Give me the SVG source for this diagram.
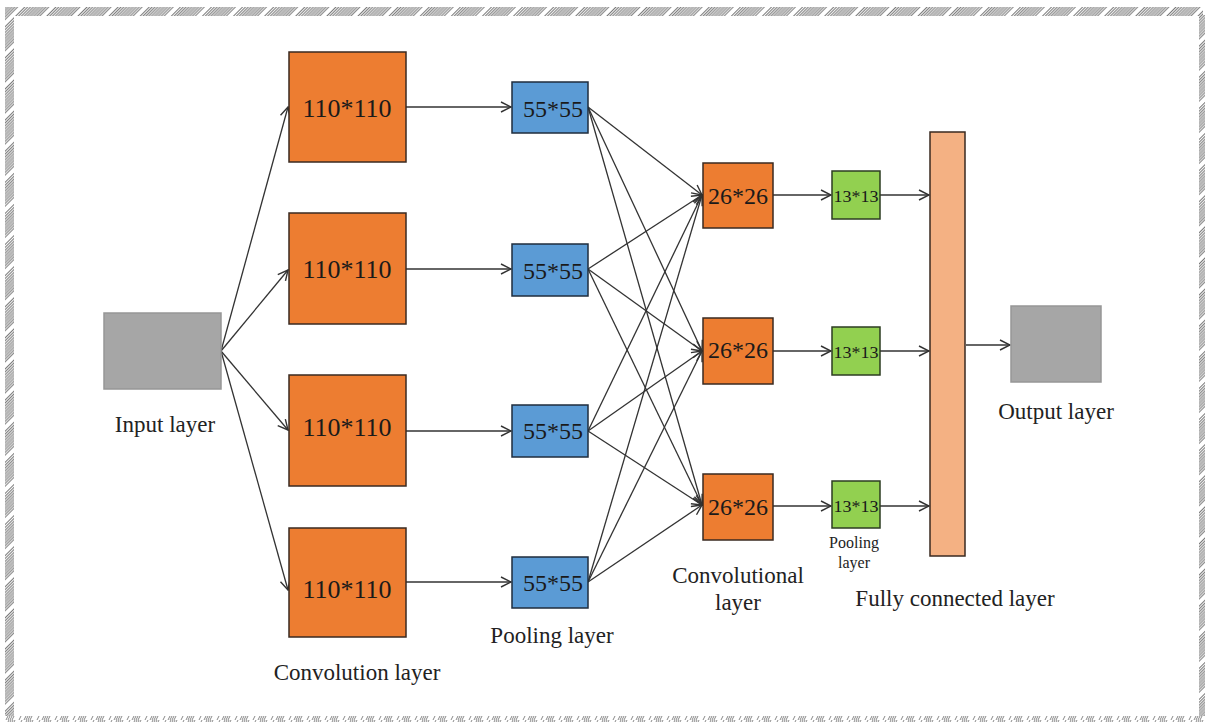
<svg xmlns="http://www.w3.org/2000/svg" width="1205" height="722" viewBox="0 0 1205 722">
  <defs>
    <pattern id="hatch" width="22" height="22" patternUnits="userSpaceOnUse" patternTransform="rotate(-45)">
      <rect width="22" height="22" fill="#ffffff"/>
      <g stroke="#7a7a7a" stroke-width="1.1">
        <line x1="0" y1="0.5" x2="22" y2="0.5"/>
        <line x1="0" y1="2.6" x2="22" y2="2.6"/>
        <line x1="0" y1="4.7" x2="22" y2="4.7"/>
        <line x1="0" y1="6.8" x2="22" y2="6.8"/>
        <line x1="0" y1="8.9" x2="22" y2="8.9"/>
        <line x1="0" y1="11" x2="22" y2="11"/>
        <line x1="0" y1="13.1" x2="22" y2="13.1"/>
        <line x1="0" y1="15.2" x2="22" y2="15.2"/>
        <line x1="0" y1="17.3" x2="22" y2="17.3"/>
      </g>
    </pattern>
    <pattern id="dash" width="18" height="6" patternUnits="userSpaceOnUse">
      <rect width="18" height="6" fill="#ffffff"/>
      <g stroke="#8a8a8a" stroke-width="1">
        <line x1="1" y1="6" x2="4" y2="0"/>
        <line x1="6" y1="6" x2="9" y2="0"/>
        <line x1="8" y1="6" x2="11" y2="0"/>
        <line x1="10" y1="6" x2="13" y2="0"/>
        <line x1="12" y1="6" x2="15" y2="0"/>
      </g>
    </pattern>
    <marker id="arr" viewBox="0 0 12 12" refX="11" refY="6" markerWidth="12" markerHeight="12" markerUnits="userSpaceOnUse" orient="auto">
      <path d="M1,1 L11,6 L1,11" fill="none" stroke="#333" stroke-width="1.4"/>
    </marker>
    <style>
      .lbl { font-family: "Liberation Serif", "Times New Roman", serif; fill: #222; text-anchor: middle; }
      .big { font-size: 23px; }
      .small { font-size: 16px; }
      .inbox { font-family: "Liberation Serif", "Times New Roman", serif; text-anchor: middle; dominant-baseline: central; fill: #1a1a1a; }
      .gray { fill: #a6a6a6; stroke: #969696; stroke-width: 1.5; }
      .conv { fill: #ed7d31; stroke: #3a2a20; stroke-width: 1.5; }
      .pool { fill: #5b9bd5; stroke: #1f2d3d; stroke-width: 1.5; }
      .pool2 { fill: #92d050; stroke: #2d3d22; stroke-width: 1.5; }
      .fc { fill: #f4b183; stroke: #3a2a20; stroke-width: 1.5; }
      .edge { fill: none; stroke: #333; stroke-width: 1.3; marker-end: url(#arr); }
    </style>
  </defs>

  <rect width="1205" height="722" fill="#ffffff"/>

  <!-- frame -->
  <rect x="5" y="7" width="1198" height="9" fill="url(#hatch)"/>
  <rect x="5" y="7" width="9" height="715" fill="url(#hatch)"/>
  <rect x="1199" y="15" width="6" height="703" fill="url(#hatch)"/>
  <rect x="5" y="716" width="1200" height="6" fill="url(#dash)"/>

  <!-- connectors -->
  <g id="connectors">
    <!-- input to convolution -->
    <path class="edge" d="M221,351 L288,107"/>
    <path class="edge" d="M221,351 L288,270"/>
    <path class="edge" d="M221,351 L288,430"/>
    <path class="edge" d="M221,351 L288,590"/>
    <!-- convolution to pooling -->
    <path class="edge" d="M406,107 L511,107"/>
    <path class="edge" d="M406,269 L511,269"/>
    <path class="edge" d="M406,431 L511,431"/>
    <path class="edge" d="M406,582 L511,582"/>
    <!-- pooling to convolutional (full) -->
    <path class="edge" d="M588,107 L702,195"/>
    <path class="edge" d="M588,107 L702,351"/>
    <path class="edge" d="M588,107 L702,505"/>
    <path class="edge" d="M588,269 L702,195"/>
    <path class="edge" d="M588,269 L702,351"/>
    <path class="edge" d="M588,269 L702,505"/>
    <path class="edge" d="M588,431 L702,195"/>
    <path class="edge" d="M588,431 L702,351"/>
    <path class="edge" d="M588,431 L702,505"/>
    <path class="edge" d="M588,582 L702,195"/>
    <path class="edge" d="M588,582 L702,351"/>
    <path class="edge" d="M588,582 L702,505"/>
    <!-- convolutional to pooling -->
    <path class="edge" d="M773,195 L831,195"/>
    <path class="edge" d="M773,351 L831,351"/>
    <path class="edge" d="M773,506 L831,506"/>
    <!-- pooling to fully connected -->
    <path class="edge" d="M880,195 L929,195"/>
    <path class="edge" d="M880,351 L929,351"/>
    <path class="edge" d="M880,506 L929,506"/>
    <!-- fully connected to output -->
    <path class="edge" d="M966,345 L1010,345"/>
  </g>

  <g id="input">
    <rect class="gray" x="104" y="313" width="117" height="76"/>
    <text class="lbl big" x="165" y="432">Input layer</text>
  </g>

  <g id="conv1"><rect class="conv" x="289" y="52" width="117" height="110"/><text class="inbox" x="347" y="108" font-size="26">110*110</text></g>
  <g id="conv2"><rect class="conv" x="289" y="213" width="117" height="111"/><text class="inbox" x="347" y="269" font-size="26">110*110</text></g>
  <g id="conv3"><rect class="conv" x="289" y="375" width="117" height="111"/><text class="inbox" x="347" y="427" font-size="26">110*110</text></g>
  <g id="conv4"><rect class="conv" x="289" y="528" width="117" height="109"/><text class="inbox" x="347" y="589" font-size="26">110*110</text></g>
  <g id="conv-label"><text class="lbl big" x="357" y="680">Convolution layer</text></g>

  <g id="pool1"><rect class="pool" x="512" y="82" width="76" height="51"/><text class="inbox" x="553" y="109" font-size="24">55*55</text></g>
  <g id="pool2"><rect class="pool" x="512" y="244" width="76" height="52"/><text class="inbox" x="553" y="271" font-size="24">55*55</text></g>
  <g id="pool3"><rect class="pool" x="512" y="405" width="76" height="52"/><text class="inbox" x="553" y="431" font-size="24">55*55</text></g>
  <g id="pool4"><rect class="pool" x="512" y="557" width="76" height="51"/><text class="inbox" x="553" y="583" font-size="24">55*55</text></g>
  <g id="pool-label"><text class="lbl big" x="552" y="643">Pooling layer</text></g>

  <g id="convb1"><rect class="conv" x="703" y="163" width="70" height="65"/><text class="inbox" x="738" y="196" font-size="24">26*26</text></g>
  <g id="convb2"><rect class="conv" x="703" y="318" width="70" height="66"/><text class="inbox" x="738" y="350" font-size="24">26*26</text></g>
  <g id="convb3"><rect class="conv" x="703" y="474" width="70" height="66"/><text class="inbox" x="738" y="507" font-size="24">26*26</text></g>
  <g id="convb-label">
    <text class="lbl big" x="738" y="583">Convolutional</text>
    <text class="lbl big" x="738" y="610">layer</text>
  </g>

  <g id="poolb1"><rect class="pool2" x="832" y="171" width="48" height="48"/><text class="inbox" x="856" y="196" font-size="17" fill="#1c3310" textLength="45" lengthAdjust="spacingAndGlyphs">13*13</text></g>
  <g id="poolb2"><rect class="pool2" x="832" y="327" width="48" height="48"/><text class="inbox" x="856" y="352" font-size="17" fill="#1c3310" textLength="45" lengthAdjust="spacingAndGlyphs">13*13</text></g>
  <g id="poolb3"><rect class="pool2" x="832" y="481" width="48" height="47"/><text class="inbox" x="856" y="506" font-size="17" fill="#1c3310" textLength="45" lengthAdjust="spacingAndGlyphs">13*13</text></g>
  <g id="poolb-label">
    <text class="lbl small" x="854" y="548">Pooling</text>
    <text class="lbl small" x="854" y="568">layer</text>
  </g>

  <g id="fc">
    <rect class="fc" x="930" y="132" width="35" height="424"/>
    <text class="lbl big" x="955" y="606">Fully connected layer</text>
  </g>

  <g id="output">
    <rect class="gray" x="1011" y="306" width="90" height="76"/>
    <text class="lbl big" x="1056" y="419">Output layer</text>
  </g>
</svg>
